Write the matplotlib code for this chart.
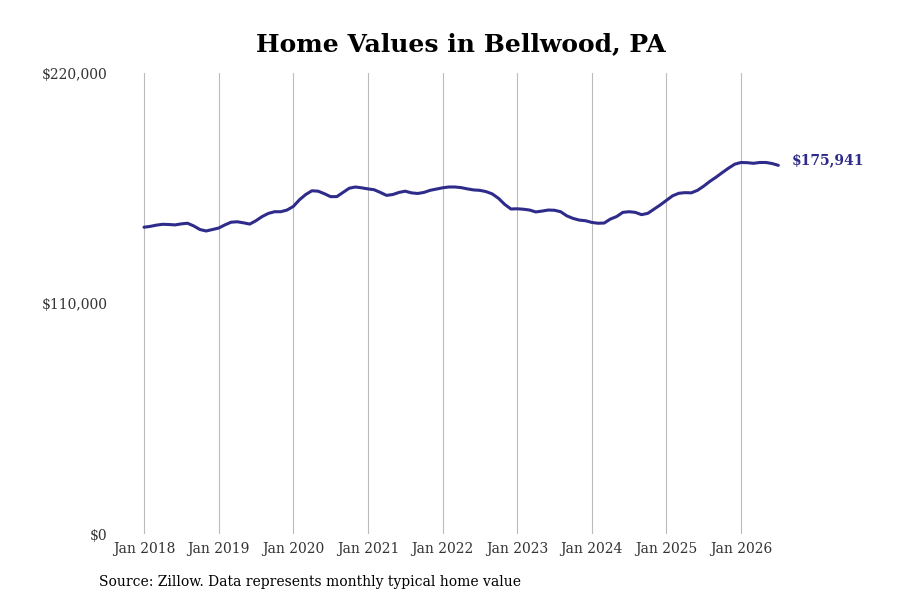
import matplotlib
matplotlib.use("Agg")
import matplotlib.pyplot as plt
import numpy as np

# Monthly typical home value, Jan 2018 .. Jul 2026 (USD thousands)
values_k = [
    # 2018
    146.4, 146.8, 147.4, 147.8, 147.7, 147.5, 148.0, 148.3, 147.0, 145.3, 144.6, 145.3,
    # 2019
    146.0, 147.5, 148.8, 149.0, 148.5, 147.9, 149.5, 151.5, 153.0, 153.8, 153.8, 154.6,
    # 2020
    156.3, 159.5, 162.0, 163.8, 163.6, 162.4, 161.0, 161.0, 163.0, 165.0, 165.6, 165.2,
    # 2021
    164.7, 164.3, 163.0, 161.6, 162.0, 163.0, 163.6, 162.8, 162.5, 163.0, 164.0, 164.6,
    # 2022
    165.2, 165.6, 165.6, 165.3, 164.7, 164.2, 164.0, 163.4, 162.3, 160.2, 157.3, 155.1,
    # 2023
    155.2, 155.0, 154.6, 153.7, 154.1, 154.6, 154.5, 153.8, 151.8, 150.6, 149.8, 149.5,
    # 2024
    148.7, 148.3, 148.4, 150.3, 151.5, 153.5, 153.8, 153.5, 152.4, 153.0, 155.0, 157.0,
    # 2025
    159.2, 161.4, 162.6, 162.9, 162.8, 164.0, 166.0, 168.3, 170.3, 172.5, 174.6, 176.5,
    # 2026
    177.3, 177.2, 176.9, 177.3, 177.3, 176.8, 175.941,
]
start_year = 2018
tick_years = list(range(2018, 2027))
tick_labels = [f"Jan {y}" for y in tick_years]
y_ticks = [0, 110000, 220000]
y_tick_labels = ["$0", "$110,000", "$220,000"]
title = "Home Values in Bellwood, PA"
source = "Source: Zillow. Data represents monthly typical home value"

values = np.array(values_k) * 1000
months = np.arange(len(values))
tick_pos = [(y - start_year) * 12 for y in tick_years]

line_color = "#2e2b8a"
serif = ["DejaVu Serif"]

fig = plt.figure(figsize=(9, 6), dpi=100)
left_px, right_px = 115, 790
x0_px, px_per_month = 144, (741 - 144) / 96
ax = fig.add_axes([left_px / 900, 1 - 534 / 600, (right_px - left_px) / 900, (534 - 73) / 600])
ax.plot(months, values, color=line_color, lw=2.2, solid_capstyle="round", zorder=3)
ax.set_xlim((left_px - x0_px) / px_per_month, (right_px - x0_px) / px_per_month)
ax.set_ylim(0, 220000)
ax.set_xticks(tick_pos)
ax.set_xticklabels(tick_labels, family=serif, fontsize=10, color="#333333")
ax.set_yticks(y_ticks)
ax.set_yticklabels(y_tick_labels, family=serif, fontsize=10, color="#333333")
ax.tick_params(axis="x", length=0, pad=6)
ax.tick_params(axis="y", length=0, pad=5.5)
ax.grid(axis="x", color="#bbbbbb", lw=0.8)
ax.grid(axis="y", visible=False)
for s in ax.spines.values():
    s.set_visible(False)

ax.annotate(f"${values[-1]:,.0f}", xy=(months[-1], values[-1]), xytext=(10, 3.8),
            textcoords="offset points", va="center", ha="left",
            family=serif, fontsize=10, fontweight="bold", color=line_color)

fig.text(461 / 900, 1 - 44 / 600, title, ha="center", va="center",
         family=serif, fontsize=18, fontweight="bold", color="black")
fig.text(99 / 900, 1 - 582 / 600, source, ha="left", va="center",
         family=serif, fontsize=10, color="black")

fig.savefig("out.png", dpi=100)
